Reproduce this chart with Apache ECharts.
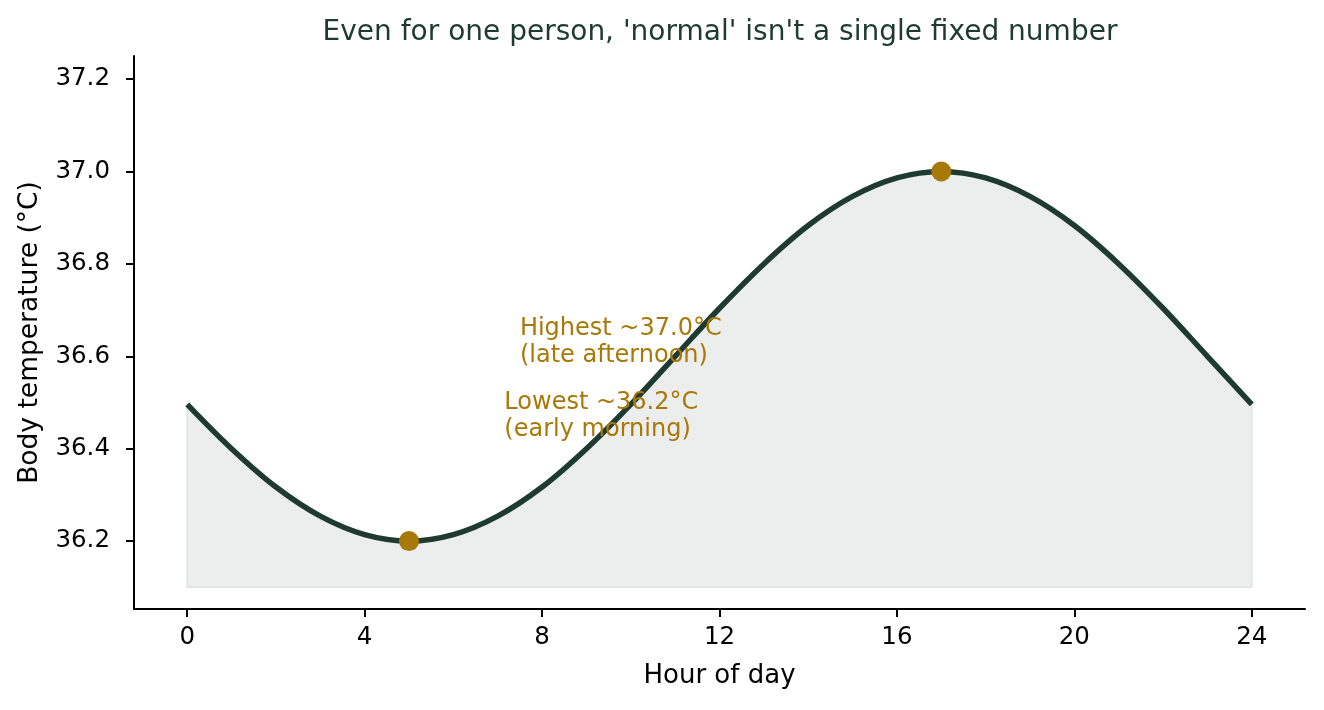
<!DOCTYPE html>
<html>
<head>
<meta charset="utf-8">
<title>Body temperature over the day</title>
<script src="https://cdn.jsdelivr.net/npm/echarts@6/dist/echarts.min.js"></script>
<style>
  html, body { margin: 0; padding: 0; background: #fff; }
  #chart { width: 1324px; height: 710px; }
</style>
</head>
<body>
<div id="chart"></div>
<script>
// values, one per hour
const hours = [0, 1, 2, 3, 4, 5, 6, 7, 8, 9, 10, 11, 12, 13, 14, 15, 16, 17, 18, 19, 20, 21, 22, 23, 24];
const temps = [36.496, 36.400, 36.317, 36.254, 36.214, 36.200, 36.214, 36.254, 36.317, 36.400, 36.496, 36.600,
               36.704, 36.800, 36.883, 36.946, 36.986, 37.000, 36.986, 36.946, 36.883, 36.800, 36.704, 36.600, 36.496];
const fillBase = 36.1;
const xTicks = [0, 4, 8, 12, 16, 20, 24];
const yTicks = [36.2, 36.4, 36.6, 36.8, 37.0, 37.2];
const extremes = [[5, 36.2], [17, 37.0]];
const notes = [
    [7.5, 36.63, 'Highest ~37.0°C\n(late afternoon)'],
    [7.15, 36.47, 'Lowest ~36.2°C\n(early morning)']
];

const ink = '#1f3a30';
const gold = '#a87808';
const font = 'DejaVu Sans';

let curve = hours.map((h, i) => [h, temps[i]]);
let last = hours.length - 1;
// outline of the shaded band: sides and bottom
let edge = [
    [hours[0], temps[0]], [hours[0], fillBase],
    [hours[last], fillBase], [hours[last], temps[last]]
];

let myChart = echarts.init(document.getElementById('chart'));

myChart.setOption({
    animation: false,
    backgroundColor: '#fff',
    title: {
        text: "Even for one person, 'normal' isn't a single fixed number",
        left: 715,
        top: 14,
        textAlign: 'center',
        textStyle: { color: ink, fontFamily: font, fontSize: 28, fontWeight: 'normal' }
    },
    grid: { left: 134, right: 19, top: 56, bottom: 101 },
    xAxis: {
        type: 'value',
        min: -1.2,
        max: 25.2,
        name: 'Hour of day',
        nameLocation: 'middle',
        nameGap: 54,
        nameTextStyle: { color: '#000', fontFamily: font, fontSize: 26 },
        splitLine: { show: false },
        axisLine: { show: true, onZero: false, lineStyle: { color: '#000', width: 2 } },
        axisTick: { show: true, customValues: xTicks, length: 8, inside: false, lineStyle: { color: '#000', width: 2 } },
        axisLabel: { customValues: xTicks, color: '#000', fontFamily: font, fontSize: 24.5, margin: 16 }
    },
    yAxis: {
        type: 'value',
        min: 36.053,
        max: 37.25,
        name: 'Body temperature (°C)',
        nameLocation: 'middle',
        nameRotate: 90,
        nameGap: 90,
        nameTextStyle: { color: '#000', fontFamily: font, fontSize: 26.5 },
        splitLine: { show: false },
        axisLine: { show: true, onZero: false, lineStyle: { color: '#000', width: 2 } },
        axisTick: { show: true, customValues: yTicks, length: 8, inside: false, lineStyle: { color: '#000', width: 2 } },
        axisLabel: {
            customValues: yTicks, color: '#000', fontFamily: font, fontSize: 24.5, margin: 24,
            formatter: v => v.toFixed(1)
        }
    },
    series: [
        {
            name: 'band',
            type: 'line',
            data: curve,
            smooth: 0.35,
            symbol: 'none',
            lineStyle: { color: '#dfe2e1', width: 1.5 },
            areaStyle: { color: '#eceeed', opacity: 1, origin: fillBase },
            z: 1
        },
        {
            name: 'bandEdge',
            type: 'line',
            data: edge,
            symbol: 'none',
            lineStyle: { color: '#dfe2e1', width: 1.5 },
            z: 1
        },
        {
            name: 'temperature',
            type: 'line',
            data: curve,
            smooth: 0.35,
            symbol: 'none',
            lineStyle: { color: ink, width: 5.5, cap: 'butt' },
            z: 3
        },
        {
            name: 'extremes',
            type: 'scatter',
            data: extremes,
            symbolSize: 20,
            itemStyle: { color: gold, opacity: 1 },
            z: 4
        },
        {
            name: 'notes',
            type: 'scatter',
            data: notes,
            symbolSize: 0,
            silent: true,
            itemStyle: { opacity: 1 },
            label: {
                show: true,
                position: 'right',
                distance: 0,
                align: 'left',
                color: gold,
                opacity: 1,
                fontFamily: font,
                fontSize: 24,
                lineHeight: 27,
                formatter: p => p.data[2]
            },
            z: 5
        }
    ]
});
</script>
</body>
</html>
